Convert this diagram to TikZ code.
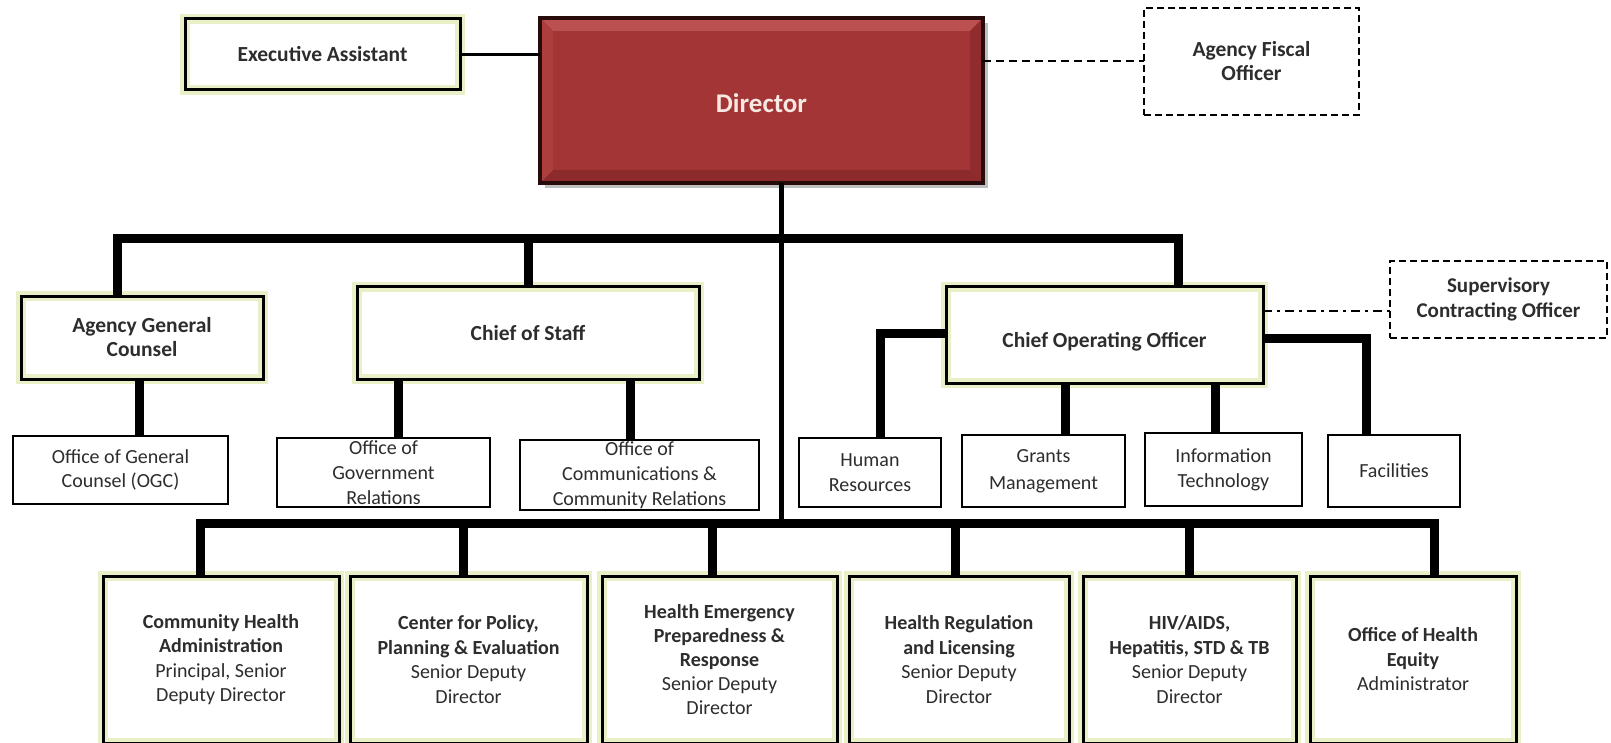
\documentclass[tikz,border=0pt]{standalone}
\usepackage{fontspec}
\setmainfont{Carlito}
\usetikzlibrary{calc}
\definecolor{glow}{RGB}{233,239,198}
\definecolor{dirred}{RGB}{163,53,54}
\definecolor{dirlight}{RGB}{186,80,80}
\definecolor{dirside}{RGB}{172,62,62}
\definecolor{dirdark}{RGB}{140,42,44}
\definecolor{dirline}{RGB}{40,12,12}
\definecolor{txt}{RGB}{25,25,25}
\definecolor{txtn}{RGB}{45,45,45}
\begin{document}
\begin{tikzpicture}[x=1pt,y=-1pt,
  base/.style={inner sep=0pt, outer sep=0pt, align=center, text=txtn,
    font=\fontsize{20}{23}\selectfont},
  midfont/.style={font=\fontsize{21.5}{24}\selectfont},
  lowfont/.style={font=\fontsize{20}{24.5}\selectfont},
  gbox/.style={base, fill=white, draw=glow, line width=10pt,
    postaction={draw=black, line width=3pt}},
  pbox/.style={base, fill=white, draw=black, line width=2.5pt},
  dbox/.style={base, fill=white, draw=black, line width=2pt, dash pattern=on 7pt off 4pt},
  dirbox/.style={inner sep=0pt, outer sep=0pt, fill=dirred, draw=dirline, line width=4pt,
    text={rgb,255:red,248;green,232;blue,226}, font=\fontsize{27}{30}\selectfont\bfseries,
    preaction={fill=black!25, transform canvas={xshift=5pt,yshift=-5pt}},
    path picture={
      \fill[dirlight] (path picture bounding box.north west) -- (path picture bounding box.north east)
        -- ++(-13,13) -- ($(path picture bounding box.north west)+(13,13)$) -- cycle;
      \fill[dirdark] (path picture bounding box.south west) -- (path picture bounding box.south east)
        -- ++(-13,-13) -- ($(path picture bounding box.south west)+(13,-13)$) -- cycle;
      \fill[dirside] (path picture bounding box.north west) -- (path picture bounding box.south west)
        -- ++(13,-13) -- ($(path picture bounding box.north west)+(13,13)$) -- cycle;
      \fill[dirdark!85!dirred] (path picture bounding box.north east) -- (path picture bounding box.south east)
        -- ++(-13,-13) -- ($(path picture bounding box.north east)+(-13,13)$) -- cycle;
    }},
  bus/.style={draw=black, line width=9pt},
  trunkline/.style={draw=black, line width=5pt},
  thinline/.style={draw=black, line width=2.5pt},
  dashline/.style={draw=black, line width=2pt, dash pattern=on 8pt off 5pt},
  dashdotline/.style={draw=black, line width=2pt, dash pattern=on 9pt off 5pt on 3pt off 5pt},
]
\fill[white] (0,0) rectangle (1611,743);
\useasboundingbox (0,0) rectangle (1611,743);

% ---- top level
\node[gbox, midfont, minimum width=275, minimum height=71] (EA) at (322.5,54.5) {\textbf{Executive Assistant}};
\node[dirbox, minimum width=443, minimum height=165] (Director) at (761.5,100.5) {\raisebox{-3pt}[\height][\depth]{Director}};
\node[dbox, midfont, minimum width=215, minimum height=107] (AFO) at (1251.5,61.5) {\textbf{Agency Fiscal}\\\textbf{Officer}};
\node[dbox, font=\fontsize{21}{25}\selectfont, minimum width=217, minimum height=77] (SCO) at (1498.5,299.5) {\textbf{Supervisory}\\\textbf{Contracting Officer}};

% ---- second level
\node[gbox, midfont, minimum width=242, minimum height=83] (AGC) at (142,337.5) {\textbf{Agency General}\\\textbf{Counsel}};
\node[gbox, midfont, minimum width=342, minimum height=92] (CoS) at (528,333) {\textbf{Chief of Staff}};
\node[gbox, midfont, minimum width=317, minimum height=96] (COO) at (1104.5,335) {\raisebox{-7pt}[\height][\depth]{\textbf{Chief Operating Officer}}};

% ---- third level
\node[pbox, minimum width=215, minimum height=68, font=\fontsize{20}{23.5}\selectfont] (OGC) at (120.5,470) {Office of General\\Counsel (OGC)};
\node[pbox, minimum width=213, minimum height=69, font=\fontsize{20}{25}\selectfont] (OGR) at (383.5,472.5) {Office of\\Government\\Relations};
\node[pbox, minimum width=239, minimum height=70, font=\fontsize{20}{25}\selectfont] (OCCR) at (639.5,475) {Office of\\Communications \&\\Community Relations};
\node[pbox, minimum width=142, minimum height=69, font=\fontsize{20}{25.5}\selectfont] (HR) at (870,472.5) {Human\\Resources};
\node[pbox, minimum width=163, minimum height=72, font=\fontsize{20}{27}\selectfont] (GM) at (1043.5,471) {Grants\\Management};
\node[pbox, minimum width=157, minimum height=73, font=\fontsize{20}{25}\selectfont] (IT) at (1223.5,469.5) {Information\\Technology};
\node[pbox, minimum width=132, minimum height=72] (FAC) at (1394,471) {Facilities};

% ---- bottom level
\node[gbox, lowfont, minimum width=236, minimum height=167] (CHA) at (221,659.5)
  {\textbf{Community Health}\\\textbf{Administration}\\Principal, Senior\\Deputy Director};
\node[gbox, lowfont, minimum width=237, minimum height=167] (CPPE) at (468.5,659.5)
  {\textbf{Center for Policy,}\\\textbf{Planning \& Evaluation}\\Senior Deputy\\Director};
\node[gbox, lowfont, minimum width=235, minimum height=167, font=\fontsize{20}{24}\selectfont] (HEPR) at (719.5,659.5)
  {\textbf{Health Emergency}\\\textbf{Preparedness \&}\\\textbf{Response}\\Senior Deputy\\Director};
\node[gbox, lowfont, minimum width=220, minimum height=167] (HRLA) at (959,659.5)
  {\textbf{Health Regulation}\\\textbf{and Licensing}\\Senior Deputy\\Director};
\node[gbox, lowfont, minimum width=213, minimum height=167] (HIV) at (1189.5,659.5)
  {\textbf{HIV/AIDS,}\\\textbf{Hepatitis, STD \& TB}\\Senior Deputy\\Director};
\node[gbox, lowfont, minimum width=206, minimum height=167] (OHE) at (1413,659.5)
  {\textbf{Office of Health}\\\textbf{Equity}\\Administrator};

% ---- helper coordinates (x positions of drops, y of buses)
\coordinate (xTr) at (781,0);
\coordinate (yTop) at (0,239);
\coordinate (yLow) at (0,523);
\coordinate (xAGC) at (117,0);
\coordinate (xCoS) at (528,0);
\coordinate (xCOO) at (1178,0);
\coordinate (xOGC) at (139,0);
\coordinate (xOGR) at (398,0);
\coordinate (xOCCR) at (630,0);
\coordinate (xHR) at (880,0);
\coordinate (yHR) at (0,333);
\coordinate (xGM) at (1065,0);
\coordinate (xIT) at (1215,0);
\coordinate (xFAC) at (1366,0);
\coordinate (yFAC) at (0,338);
\coordinate (ySCO) at (0,311);
\coordinate (xB1) at (200,0);
\coordinate (xB2) at (463,0);
\coordinate (xB3) at (712,0);
\coordinate (xB4) at (955,0);
\coordinate (xB5) at (1189,0);
\coordinate (xB6) at (1434,0);

% ---- connectors
\draw[thinline] (EA.east) -- (EA.east -| Director.west);
\draw[dashline] (Director.east |- AFO.west) -- (AFO.west);
\draw[dashdotline] (COO.east |- ySCO) -- (SCO.west |- ySCO);

\draw[trunkline] (Director.south -| xTr) -- (xTr |- yLow);

\draw[bus] (AGC.north -| xAGC) -- (xAGC |- yTop) -- (xCOO |- yTop) -- (COO.north -| xCOO);
\draw[bus] (CoS.north -| xCoS) -- (xCoS |- yTop);

\draw[bus] (AGC.south -| xOGC) -- (OGC.north -| xOGC);
\draw[bus] (CoS.south -| xOGR) -- (OGR.north -| xOGR);
\draw[bus] (CoS.south -| xOCCR) -- (OCCR.north -| xOCCR);

\draw[bus] (COO.west |- yHR) -- (xHR |- yHR) -- (HR.north -| xHR);
\draw[bus] (COO.south -| xGM) -- (GM.north -| xGM);
\draw[bus] (COO.south -| xIT) -- (IT.north -| xIT);
\draw[bus] (COO.east |- yFAC) -- (xFAC |- yFAC) -- (FAC.north -| xFAC);

\draw[bus] (CHA.north -| xB1) -- (xB1 |- yLow) -- (xB6 |- yLow) -- (OHE.north -| xB6);
\draw[bus] (xB2 |- yLow) -- (CPPE.north -| xB2);
\draw[bus] (xB3 |- yLow) -- (HEPR.north -| xB3);
\draw[bus] (xB4 |- yLow) -- (HRLA.north -| xB4);
\draw[bus] (xB5 |- yLow) -- (HIV.north -| xB5);
\end{tikzpicture}
\end{document}
